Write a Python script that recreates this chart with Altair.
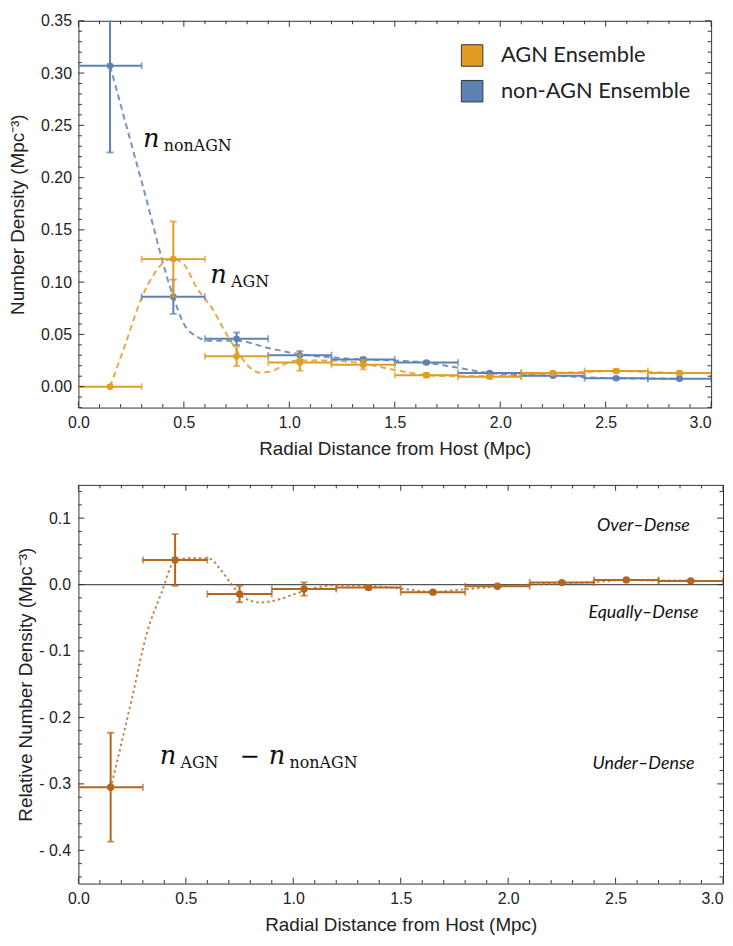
import altair as alt
import pandas as pd

# ---------------- data ----------------
r_mid = [0.15, 0.45, 0.75, 1.05, 1.35, 1.65, 1.95, 2.25, 2.55, 2.85]
r_lo = [0.0, 0.3, 0.6, 0.9, 1.2, 1.5, 1.8, 2.1, 2.4, 2.7]
r_hi = [0.3, 0.6, 0.9, 1.2, 1.5, 1.8, 2.1, 2.4, 2.7, 3.0]

agn_n = [0.000, 0.122, 0.029, 0.023, 0.021, 0.011, 0.0095, 0.013, 0.015, 0.013]
agn_err = [0.0, 0.036, 0.0094, 0.0078, 0.0045, 0.002, 0.0015, 0.0015, 0.0015, 0.0015]
non_n = [0.307, 0.086, 0.0458, 0.030, 0.026, 0.023, 0.013, 0.0105, 0.008, 0.0075]
non_err = [0.083, 0.0164, 0.006, 0.004, 0.002, 0.0015, 0.001, 0.001, 0.001, 0.001]
diff_n = [-0.305, 0.037, -0.0143, -0.0067, -0.0045, -0.0114, -0.0025, 0.003, 0.007, 0.0055]
diff_err = [0.082, 0.039, 0.0123, 0.010, 0.003, 0.002, 0.002, 0.0015, 0.0015, 0.0015]

agn_curve_r = [0.15, 0.225, 0.30, 0.36, 0.42, 0.45, 0.50, 0.56, 0.64, 0.70, 0.75, 0.80,
               0.86, 0.92, 0.99, 1.05, 1.20, 1.35, 1.50, 1.65, 1.80, 1.95, 2.10, 2.25,
               2.40, 2.55, 2.70, 2.85]
agn_curve_n = [0.0, 0.042, 0.085, 0.108, 0.121, 0.122, 0.117, 0.095, 0.073, 0.051, 0.035, 0.021,
               0.0134, 0.015, 0.0228, 0.025, 0.025, 0.022, 0.016, 0.011, 0.010, 0.010, 0.011, 0.013,
               0.014, 0.015, 0.014, 0.013]
non_curve_r = [0.15, 0.30, 0.45, 0.50, 0.56, 0.62, 0.70, 0.75, 0.90, 1.05, 1.20, 1.35, 1.50,
               1.65, 1.80, 1.95, 2.10, 2.25, 2.40, 2.55, 2.70, 2.85]
non_curve_n = [0.307, 0.196, 0.086, 0.060, 0.048, 0.044, 0.044, 0.044, 0.037, 0.031, 0.028, 0.026, 0.025,
               0.023, 0.018, 0.013, 0.011, 0.0105, 0.009, 0.008, 0.0078, 0.0075]
diff_curve_r = [0.15, 0.25, 0.317, 0.386, 0.45, 0.53, 0.61, 0.663, 0.709, 0.771, 0.848, 0.925,
                1.017, 1.10, 1.20, 1.35, 1.50, 1.65, 1.80, 1.95, 2.10, 2.25, 2.40, 2.55, 2.70, 2.85]
diff_curve_n = [-0.307, -0.17, -0.075, -0.013, 0.036, 0.040, 0.039, 0.022, 0.002, -0.020, -0.027, -0.023,
                -0.013, -0.005, -0.001, -0.002, -0.006, -0.011, -0.007, -0.003, 0.0, 0.002, 0.004, 0.007, 0.006, 0.006]

legend_labels = ["AGN Ensemble", "non-AGN Ensemble"]
region_labels = ["Over\u2013Dense", "Equally\u2013Dense", "Under\u2013Dense"]

x_major = [0.0, 0.5, 1.0, 1.5, 2.0, 2.5, 3.0]
top_y_major = [0.0, 0.05, 0.10, 0.15, 0.20, 0.25, 0.30, 0.35]
bot_y_major = [-0.4, -0.3, -0.2, -0.1, 0.0, 0.1]

# ---------------- styling ----------------
ORANGE = "#E09C24"
BLUE = "#5E81B5"
BROWN = "#B5651D"
FRAME = "#333333"
TXT = "#222222"
SANS = "Liberation Sans"
MATH = "DejaVu Serif"
DECO = "Lato"

W1, H1 = 638, 390
W2, H2 = 650, 402


def steps(a, b, step):
    n = int(round((b - a) / step))
    return [round(a + i * step, 4) for i in range(n + 1)]


x_minor = [v for v in steps(0, 3, 0.1) if v not in x_major]
top_y_minor = [v for v in steps(-0.02, 0.35, 0.01) if round(v / 0.05, 6) % 1 != 0]
bot_y_minor = [v for v in steps(-0.44, 0.14, 0.02) if round(v / 0.1, 6) % 1 != 0]

xs_top = alt.Scale(domain=[0, 3], nice=False, zero=False)
xs_bot = alt.Scale(domain=[0, 3], nice=False, zero=False)
ys_top = alt.Scale(domain=[-0.02, 0.35], nice=False, zero=False)
ys_bot = alt.Scale(domain=[-0.45, 0.15], nice=False, zero=False)


def x_axis():
    return alt.Axis(title="Radial Distance from Host (Mpc)", values=x_major, format=".1f",
                    ticks=False, domain=False, grid=False, labelFlush=False, labelOverlap=False,
                    labelAlign={"condition": {"test": "datum.value >= 3", "value": "right"}, "value": "center"},
                    labelFont=SANS, labelFontSize=16, labelColor=TXT, labelPadding=7,
                    titleFont=SANS, titleFontSize=19, titleFontWeight="normal", titleColor=TXT,
                    titlePadding=9)


top_yaxis = alt.Axis(title="Number Density (Mpc\u207B\u00B3)", values=top_y_major, format=".2f",
                     ticks=False, domain=False, grid=False, labelOverlap=False,
                     labelFont=SANS, labelFontSize=16, labelColor=TXT, labelPadding=7,
                     titleFont=SANS, titleFontSize=19, titleFontWeight="normal", titleColor=TXT,
                     titlePadding=13)
bot_yaxis = alt.Axis(title="Relative Number Density (Mpc\u207B\u00B3)", values=bot_y_major,
                     labelExpr="datum.value < 0 ? '- ' + format(-datum.value, '.1f') : format(datum.value, '.1f')",
                     ticks=False, domain=False, grid=False, labelOverlap=False,
                     labelFont=SANS, labelFontSize=16, labelColor=TXT, labelPadding=8,
                     titleFont=SANS, titleFontSize=19, titleFontWeight="normal", titleColor=TXT,
                     titlePadding=3)


def make_enc(xscale, yscale, xax, yax):
    def X(f):
        return alt.X(f, type="quantitative", scale=xscale, axis=xax)

    def Y(f):
        return alt.Y(f, type="quantitative", scale=yscale, axis=yax)
    return X, Y


def frame_ticks(X, Y, W, H, xmaj, xmin, ymaj, ymin):
    out = []
    for vals, L in ((xmaj, 6), (xmin, 3.5)):
        d = pd.DataFrame({"v": vals})
        base = alt.Chart(d).mark_rule(color=FRAME, strokeWidth=1)
        out.append(base.encode(x=X("v"), y=alt.value(H), y2=alt.value(H - L)))
        out.append(base.encode(x=X("v"), y=alt.value(0), y2=alt.value(L)))
    for vals, L in ((ymaj, 6), (ymin, 3.5)):
        d = pd.DataFrame({"v": vals})
        base = alt.Chart(d).mark_rule(color=FRAME, strokeWidth=1)
        out.append(base.encode(y=Y("v"), x=alt.value(0), x2=alt.value(L)))
        out.append(base.encode(y=Y("v"), x=alt.value(W), x2=alt.value(W - L)))
    return out


def errbar_layers(X, Y, vals, errs, color, pt_size):
    d = pd.DataFrame({"mid": r_mid, "lo": r_lo, "hi": r_hi, "n": vals, "e": errs})
    d["ylo"] = d["n"] - d["e"]
    d["yhi"] = d["n"] + d["e"]
    dv = d[d["e"] > 0]
    hcaps = pd.DataFrame({"xc": r_lo + r_hi, "n": vals + vals})
    vcaps = pd.DataFrame({"mid": list(dv["mid"]) * 2, "yc": list(dv["ylo"]) + list(dv["yhi"])})
    layers = [
        alt.Chart(d).mark_rule(color=color, strokeWidth=2, clip=True).encode(
            x=X("lo"), x2="hi", y=Y("n")),
        alt.Chart(hcaps).mark_tick(color=color, thickness=1.8, size=7, orient="vertical", clip=True).encode(
            x=X("xc"), y=Y("n")),
        alt.Chart(dv).mark_rule(color=color, strokeWidth=2, clip=True).encode(
            x=X("mid"), y=Y("ylo"), y2="yhi"),
        alt.Chart(vcaps).mark_tick(color=color, thickness=1.8, size=7, orient="horizontal", clip=True).encode(
            x=X("mid"), y=Y("yc")),
        alt.Chart(d).mark_circle(color=color, size=pt_size, opacity=1, clip=True).encode(
            x=X("mid"), y=Y("n")),
    ]
    return layers


def text_piece(txt, x, y, size, italic=False, dx=0, dy=0, font=None, align="left"):
    kw = dict(align=align, baseline="alphabetic", font=font or MATH, fontSize=size, color="#111")
    if italic:
        kw["fontStyle"] = "italic"
    if dx:
        kw["dx"] = dx
    if dy:
        kw["dy"] = dy
    return alt.Chart(pd.DataFrame({"t": [txt]})).mark_text(**kw).encode(
        text="t:N", x=alt.datum(x), y=alt.datum(y))


# ---------------- top panel ----------------
Xt, Yt = make_enc(xs_top, ys_top, x_axis(), top_yaxis)

curve_top = pd.concat([
    pd.DataFrame({"r": non_curve_r, "n": non_curve_n, "s": "non"}),
    pd.DataFrame({"r": agn_curve_r, "n": agn_curve_n, "s": "agn"}),
])
curves = alt.Chart(curve_top).mark_line(interpolate="monotone", strokeDash=[6, 4], strokeWidth=2,
                                        opacity=0.85, clip=True).encode(
    x=Xt("r"), y=Yt("n"),
    color=alt.Color("s:N", scale=alt.Scale(domain=["agn", "non"], range=[ORANGE, BLUE]), legend=None),
    detail="s:N")

top_layers = [curves]
top_layers += errbar_layers(Xt, Yt, non_n, non_err, BLUE, 45)
top_layers += errbar_layers(Xt, Yt, agn_n, agn_err, ORANGE, 45)

# legend (drawn by hand, inside the frame)
for i, (lab, col) in enumerate(zip(legend_labels, [ORANGE, BLUE])):
    ly = 35 + i * 36
    dl = pd.DataFrame({"lab": [lab]})
    top_layers.append(alt.Chart(dl).mark_square(size=470, fill=col, fillOpacity=1, stroke="#333",
                                                strokeWidth=1).encode(x=alt.value(397), y=alt.value(ly)))
    top_layers.append(alt.Chart(dl).mark_text(align="left", baseline="middle", font=DECO, fontSize=22,
                                              color=TXT).encode(text="lab:N", x=alt.value(426),
                                                                y=alt.value(ly)))

# math annotations
top_layers.append(text_piece("n", 0.306, 0.229, 26, italic=True))
top_layers.append(text_piece("nonAGN", 0.306, 0.229, 16, dx=21, dy=4))
top_layers.append(text_piece("n", 0.625, 0.099, 26, italic=True))
top_layers.append(text_piece("AGN", 0.625, 0.099, 16, dx=21, dy=4))
top_layers += frame_ticks(Xt, Yt, W1, H1, x_major, x_minor, top_y_major, top_y_minor)

top = alt.layer(*top_layers).properties(width=W1, height=H1)

# ---------------- bottom panel ----------------
Xb, Yb = make_enc(xs_bot, ys_bot, x_axis(), bot_yaxis)

zero = alt.Chart(pd.DataFrame({"z": [0.0]})).mark_rule(color="#555", strokeWidth=1.2).encode(y=Yb("z"))
dcurve = alt.Chart(pd.DataFrame({"r": diff_curve_r, "n": diff_curve_n})).mark_line(
    interpolate="monotone", strokeDash=[2.5, 3], strokeWidth=2, color=BROWN, opacity=0.8, clip=True).encode(
    x=Xb("r"), y=Yb("n"))

bot_layers = [zero, dcurve]
bot_layers += errbar_layers(Xb, Yb, diff_n, diff_err, BROWN, 55)

region_y = [0.08, -0.05, -0.277]
for lab, yv in zip(region_labels, region_y):
    bot_layers.append(text_piece(lab, 2.63, yv, 18, italic=True, font=DECO, align="center"))

bot_layers.append(text_piece("n", 0.378, -0.270, 26, italic=True))
bot_layers.append(text_piece("AGN", 0.378, -0.270, 16, dx=21, dy=4))
bot_layers.append(text_piece("\u2212", 0.752, -0.270, 24))
bot_layers.append(text_piece("n", 0.886, -0.270, 26, italic=True))
bot_layers.append(text_piece("nonAGN", 0.886, -0.270, 16, dx=21, dy=4))

bot_layers += frame_ticks(Xb, Yb, W2, H2, x_major, x_minor, bot_y_major, bot_y_minor)

bottom = alt.layer(*bot_layers).properties(width=W2, height=H2)

chart = alt.ConcatChart(concat=[top, bottom], columns=1, align="none", spacing=25).properties(
    padding=0, background="white"
).configure_view(stroke=FRAME, strokeWidth=1)

chart.save("out.html", embed_options={"renderer": "svg", "actions": False})
